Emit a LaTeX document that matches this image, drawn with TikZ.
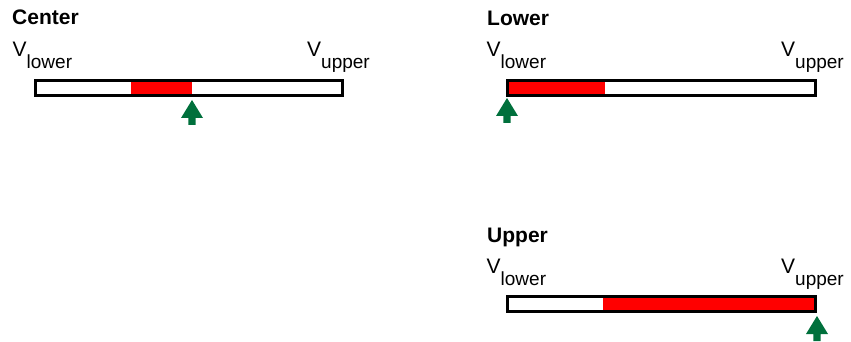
\documentclass[tikz,border=0pt]{standalone}
\usepackage{fontspec}
\setmainfont{Liberation Sans}
\definecolor{mgreen}{RGB}{0,112,60}
\definecolor{mred}{RGB}{255,0,0}
\tikzset{
  ttl/.style={anchor=base west, inner sep=0pt, font=\fontsize{21}{23}\selectfont\bfseries},
  vlab/.style={anchor=base west, inner sep=0pt, font=\fontsize{21}{23}\selectfont},
  barframe/.style={draw=black, line width=2.6pt, fill=none},
  redpart/.style={fill=mred, draw=none},
  marker/.pic={\fill[mgreen] (0,0) -- (11,18) -- (3.6,18) -- (3.6,25) -- (-3.6,25) -- (-3.6,18) -- (-11,18) -- cycle;}
}
\newcommand{\Vsub}[1]{V\raisebox{-12pt}{\fontsize{19}{21}\selectfont #1}}
\begin{document}
\begin{tikzpicture}[x=1pt,y=-1pt]
\useasboundingbox (0,0) rectangle (851,342);
% ---------- Center ----------
\node[ttl] (tc) at (12,24.5) {Center};
\node[vlab] (cl) at (12.5,56.5) {\Vsub{lower}};
\node[vlab] (cu) at (307,56.5) {\Vsub{upper}};
\fill[redpart] (131,81) rectangle (192,96);
\draw[barframe] (35.3,80.3) rectangle (342.7,95.7);
\pic at (192,100) {marker};
% ---------- Lower ----------
\node[ttl] (tl) at (487,25.5) {Lower};
\node[vlab] (ll) at (486.5,56.5) {\Vsub{lower}};
\node[vlab] (lu) at (781,56.5) {\Vsub{upper}};
\fill[redpart] (507,81) rectangle (605,96);
\draw[barframe] (507.3,80.3) rectangle (815.7,95.7);
\pic at (507,98) {marker};
% ---------- Upper ----------
\node[ttl] (tu) at (487,242.5) {Upper};
\node[vlab] (ul) at (486.5,273) {\Vsub{lower}};
\node[vlab] (uu) at (781,273) {\Vsub{upper}};
\fill[redpart] (603,297) rectangle (816,312);
\draw[barframe] (507.3,296.3) rectangle (815.7,311.7);
\pic at (817,316) {marker};
\end{tikzpicture}
\end{document}
